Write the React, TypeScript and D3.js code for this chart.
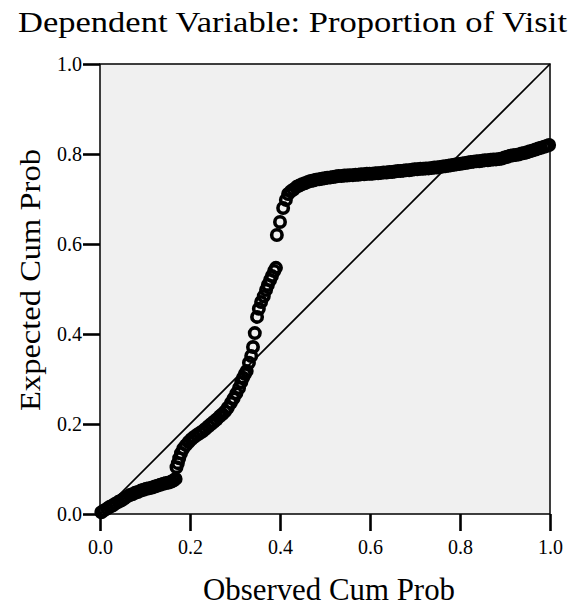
import React, { useEffect, useRef } from "react";
import * as d3 from "d3";

const title = "Dependent Variable: Proportion of Visit";
const xLabel = "Observed Cum Prob";
const yLabel = "Expected Cum Prob";
const xTicks = [0, 0.2, 0.4, 0.6, 0.8, 1.0];
const yTicks = [0, 0.2, 0.4, 0.6, 0.8, 1.0];

const observed = [
  0.003, 0.009, 0.016, 0.022, 0.028, 0.034, 0.041, 0.047, 0.053, 0.059,
  0.066, 0.072, 0.078, 0.084, 0.091, 0.097, 0.103, 0.109, 0.116, 0.122,
  0.128, 0.134, 0.141, 0.147, 0.153, 0.159, 0.164, 0.168,
  0.170, 0.173, 0.176, 0.180, 0.185, 0.191, 0.197, 0.203, 0.209, 0.216,
  0.222, 0.228, 0.234, 0.241, 0.247, 0.253, 0.259, 0.266, 0.272, 0.278,
  0.284, 0.291, 0.297, 0.303, 0.309, 0.314, 0.318, 0.322,
  0.326, 0.331, 0.336, 0.340, 0.344, 0.349, 0.353, 0.358, 0.364, 0.369,
  0.373, 0.378, 0.382, 0.387, 0.391, 0.393, 0.400, 0.407, 0.413, 0.418,
  0.424, 0.430, 0.437, 0.443, 0.449, 0.455, 0.462, 0.468, 0.474, 0.480,
  0.487, 0.493, 0.499, 0.505, 0.512, 0.518, 0.524, 0.530, 0.537, 0.543,
  0.549, 0.555, 0.562, 0.568, 0.574, 0.580, 0.587, 0.593, 0.599, 0.605,
  0.612, 0.618, 0.624, 0.630, 0.637, 0.643, 0.649, 0.655, 0.662, 0.668,
  0.674, 0.680, 0.687, 0.693, 0.699, 0.705, 0.712, 0.718, 0.724, 0.730,
  0.737, 0.743, 0.749, 0.755, 0.762, 0.768, 0.774, 0.780, 0.787, 0.793,
  0.799, 0.805, 0.812, 0.818, 0.824, 0.830, 0.837, 0.843, 0.849, 0.855,
  0.862, 0.868, 0.874, 0.880, 0.887, 0.893, 0.899, 0.905, 0.912, 0.918,
  0.924, 0.930, 0.937, 0.943, 0.949, 0.955, 0.962, 0.968, 0.974, 0.980,
  0.987, 0.993, 0.998,
];

const expected = [
  0.004, 0.008, 0.012, 0.016, 0.019, 0.023, 0.027, 0.030, 0.034, 0.038,
  0.042, 0.044, 0.047, 0.049, 0.052, 0.054, 0.056, 0.057, 0.059, 0.061,
  0.063, 0.065, 0.067, 0.069, 0.070, 0.072, 0.075, 0.078,
  0.104, 0.113, 0.124, 0.135, 0.145, 0.153, 0.160, 0.166, 0.171, 0.176,
  0.180, 0.184, 0.189, 0.195, 0.200, 0.205, 0.210, 0.217, 0.222, 0.228,
  0.236, 0.247, 0.257, 0.268, 0.280, 0.293, 0.303, 0.311,
  0.318, 0.336, 0.351, 0.371, 0.402, 0.438, 0.456, 0.471, 0.484, 0.498,
  0.509, 0.520, 0.529, 0.540, 0.547, 0.620, 0.649, 0.680, 0.698, 0.711,
  0.717, 0.721, 0.727, 0.730, 0.733, 0.735, 0.738, 0.740, 0.741, 0.743,
  0.744, 0.745, 0.746, 0.747, 0.748, 0.749, 0.750, 0.751, 0.751, 0.752,
  0.752, 0.753, 0.753, 0.754, 0.754, 0.755, 0.755, 0.756, 0.756, 0.756,
  0.757, 0.757, 0.758, 0.759, 0.759, 0.760, 0.760, 0.761, 0.762, 0.762,
  0.763, 0.764, 0.764, 0.765, 0.766, 0.766, 0.767, 0.767, 0.768, 0.768,
  0.769, 0.770, 0.770, 0.771, 0.772, 0.773, 0.774, 0.775, 0.776, 0.777,
  0.778, 0.779, 0.780, 0.781, 0.782, 0.783, 0.784, 0.784, 0.785, 0.786,
  0.786, 0.787, 0.788, 0.788, 0.789, 0.790, 0.792, 0.794, 0.796, 0.797,
  0.798, 0.799, 0.801, 0.802, 0.804, 0.806, 0.808, 0.810, 0.812, 0.814,
  0.816, 0.818, 0.820,
];

const FONT = "'Liberation Serif', 'Times New Roman', Times, serif";

export default function App() {
  const ref = useRef<SVGSVGElement>(null);

  useEffect(() => {
    const svg = d3.select(ref.current);
    svg.selectAll("*").remove();

    const x = d3.scaleLinear().domain([0, 1]).range([100, 550]);
    const y = d3.scaleLinear().domain([0, 1]).range([514, 64]);

    svg
      .append("rect")
      .attr("x", 0)
      .attr("y", 0)
      .attr("width", 571)
      .attr("height", 607)
      .attr("fill", "#ffffff");

    svg
      .append("rect")
      .attr("x", x(0))
      .attr("y", y(1))
      .attr("width", x(1) - x(0))
      .attr("height", y(0) - y(1))
      .attr("fill", "#f0f0f0");

    svg
      .append("line")
      .attr("x1", x(0))
      .attr("y1", y(0))
      .attr("x2", x(1))
      .attr("y2", y(1))
      .attr("stroke", "#000")
      .attr("stroke-width", 1.7);

    const pts = observed.map((o, i) => ({ o, e: expected[i] }));
    svg
      .append("g")
      .selectAll("circle")
      .data(pts)
      .join("circle")
      .attr("cx", (d) => x(d.o))
      .attr("cy", (d) => y(d.e))
      .attr("r", 5.2)
      .attr("fill", "none")
      .attr("stroke", "#000")
      .attr("stroke-width", 3.6);

    svg
      .append("rect")
      .attr("x", x(0))
      .attr("y", y(1))
      .attr("width", x(1) - x(0))
      .attr("height", y(0) - y(1))
      .attr("fill", "none")
      .attr("stroke", "#000")
      .attr("stroke-width", 1.5);

    const fmt = d3.format(".1f");

    const gx = svg
      .append("g")
      .attr("transform", `translate(0,${y(0)})`)
      .call(
        d3
          .axisBottom(x)
          .tickValues(xTicks)
          .tickFormat((d) => fmt(d as number))
          .tickSize(17)
          .tickPadding(9)
      );
    gx.select(".domain").remove();
    gx.selectAll(".tick line").attr("stroke", "#000").attr("stroke-width", 2.6);
    gx.selectAll(".tick text")
      .attr("fill", "#000")
      .style("font-family", FONT)
      .style("font-size", "20px");

    const gy = svg
      .append("g")
      .attr("transform", `translate(${x(0)},0)`)
      .call(
        d3
          .axisLeft(y)
          .tickValues(yTicks)
          .tickFormat((d) => fmt(d as number))
          .tickSize(17)
          .tickPadding(1)
      );
    gy.select(".domain").remove();
    gy.selectAll(".tick line").attr("stroke", "#000").attr("stroke-width", 2.6);
    gy.selectAll(".tick text")
      .attr("fill", "#000")
      .style("font-family", FONT)
      .style("font-size", "20px");

    svg
      .append("text")
      .attr("x", 18)
      .attr("y", 32)
      .attr("textLength", 549)
      .attr("lengthAdjust", "spacingAndGlyphs")
      .style("font-family", FONT)
      .style("font-size", "29px")
      .attr("fill", "#000")
      .text(title);

    svg
      .append("text")
      .attr("x", 203)
      .attr("y", 600)
      .attr("textLength", 252)
      .attr("lengthAdjust", "spacingAndGlyphs")
      .style("font-family", FONT)
      .style("font-size", "31px")
      .attr("fill", "#000")
      .text(xLabel);

    svg
      .append("text")
      .attr("transform", `translate(40,411) rotate(-90)`)
      .attr("x", 0)
      .attr("y", 0)
      .attr("textLength", 262)
      .attr("lengthAdjust", "spacingAndGlyphs")
      .style("font-family", FONT)
      .style("font-size", "30px")
      .attr("fill", "#000")
      .text(yLabel);
  }, []);

  return (
    <svg
      ref={ref}
      width={571}
      height={607}
      style={{ position: "absolute", left: 0, top: 0, display: "block" }}
    />
  );
}
